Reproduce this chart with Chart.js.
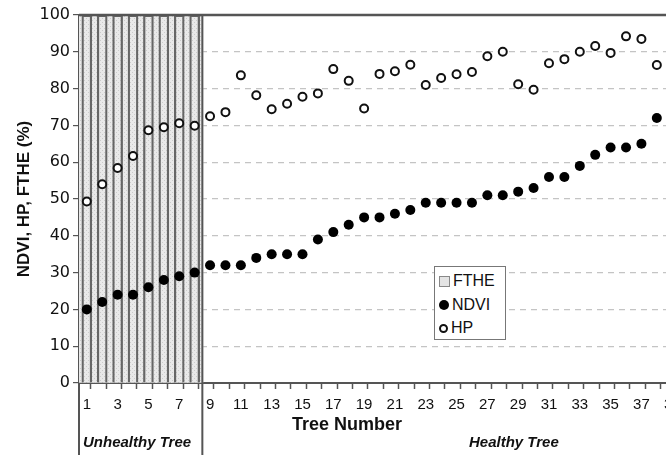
<!DOCTYPE html>
<html>
<head>
<meta charset="utf-8">
<script src="https://cdn.jsdelivr.net/npm/chart.js@4/dist/chart.umd.min.js"></script>
<style>
    html, body { margin: 0; padding: 0; background: #fff; overflow: hidden; }
    #wrap { position: relative; width: 666px; height: 455px; overflow: hidden; font-family: "Liberation Sans", Arial, sans-serif; color: #111; }
    #box { position: absolute; left: 0; top: 0; width: 700px; height: 455px; }
    .lbl { position: absolute; white-space: nowrap; }
    #xtitle { left: 292px; top: 414px; font-size: 18px; font-weight: bold; }
    .zone { top: 433px; font-size: 15px; font-weight: bold; font-style: italic; }
    #legend { position: absolute; left: 434px; top: 266px; width: 70px; height: 72px; border: 1px solid #777; background: #fff; font-size: 16px; }
    #legend div { height: 23.5px; line-height: 24px; padding-left: 4px; }
    #legend div:first-child { margin-top: 2px; }
    #legend span { display: inline-block; vertical-align: middle; margin-right: 3px; box-sizing: border-box; }
</style>
</head>
<body>
<div id="wrap">
    <div id="box"><canvas id="grafico"></canvas></div>
    <div class="lbl" id="xtitle">Tree Number</div>
    <div class="lbl zone" style="left: 83px;">Unhealthy Tree</div>
    <div class="lbl zone" style="left: 469px;">Healthy Tree</div>
    <div id="legend">
        <div><span style="width:11px;height:11px;border:1px solid #888;background:#e4e4e4;"></span>FTHE</div>
        <div><span style="width:10px;height:10px;border-radius:50%;background:#000;"></span>NDVI</div>
        <div><span style="width:9px;height:9px;border-radius:50%;border:2px solid #111;"></span>HP</div>
    </div>
</div>
<script>
// Datos del gráfico
const treeNumbers = [1, 2, 3, 4, 5, 6, 7, 8, 9, 10, 11, 12, 13, 14, 15, 16, 17, 18, 19,
    20, 21, 22, 23, 24, 25, 26, 27, 28, 29, 30, 31, 32, 33, 34, 35, 36, 37, 38];
const ndviValues = [20, 22, 24, 24, 26, 28, 29, 30, 32, 32, 32, 34, 35, 35, 35, 39, 41, 43, 45,
    45, 46, 47, 49, 49, 49, 49, 51, 51, 52, 53, 56, 56, 59, 62, 64, 64, 65, 72];
const hpValues = [49.3, 54, 58.4, 61.7, 68.7, 69.5, 70.6, 69.9, 72.5, 73.6, 83.6, 78.2, 74.4, 75.9,
    77.8, 78.7, 85.3, 82.1, 74.6, 84, 84.7, 86.5, 81, 82.9, 83.9, 84.5, 88.8, 90, 81.2, 79.7,
    86.9, 88, 90, 91.6, 89.7, 94.2, 93.5, 86.4];
const ftheTrees = [1, 2, 3, 4, 5, 6, 7, 8];
const ftheValues = [100, 100, 100, 100, 100, 100, 100, 100];
const yTicks = [0, 10, 20, 30, 40, 50, 60, 70, 80, 90, 100];
const zoneLimit = 8.5; // separación entre árboles enfermos y sanos

// Patrón punteado gris para las barras FTHE
function stipple() {
    const c = document.createElement('canvas');
    c.width = 4; c.height = 4;
    const g = c.getContext('2d');
    g.fillStyle = '#e9e9e9';
    g.fillRect(0, 0, 4, 4);
    g.fillStyle = '#cccccc';
    g.fillRect(0, 0, 1, 1);
    g.fillRect(2, 2, 1, 1);
    return g.createPattern(c, 'repeat');
}

// Líneas extra: borde superior, eje izquierdo prolongado y separador de zonas
const zonePlugin = {
    id: 'zonePlugin',
    afterDatasetsDraw(chart) {
        const { ctx, chartArea, scales } = chart;
        const xSep = scales.x.getPixelForValue(zoneLimit);
        ctx.save();
        ctx.strokeStyle = '#555';
        ctx.lineWidth = 2.5;
        ctx.beginPath();
        ctx.moveTo(chartArea.left, chartArea.top);
        ctx.lineTo(chartArea.right, chartArea.top);
        ctx.stroke();
        ctx.lineWidth = 2;
        ctx.beginPath();
        ctx.moveTo(xSep, chartArea.top);
        ctx.lineTo(xSep, chart.height);
        ctx.moveTo(chartArea.left, chartArea.bottom);
        ctx.lineTo(chartArea.left, chart.height);
        ctx.stroke();
        ctx.restore();
    }
};

const ctx = document.getElementById('grafico').getContext('2d');
const fuente = { family: '"Liberation Sans", Arial, sans-serif' };
const ftheData = ftheTrees.map((t, i) => ({ x: t, y: ftheValues[i] }));

new Chart(ctx, {
    data: {
        datasets: [{
            type: 'scatter',
            label: 'NDVI',
            data: treeNumbers.map((t, i) => ({ x: t, y: ndviValues[i] })),
            pointRadius: 5,
            pointBackgroundColor: '#000',
            pointBorderWidth: 0,
            order: 1
        }, {
            type: 'scatter',
            label: 'HP',
            data: treeNumbers.map((t, i) => ({ x: t, y: hpValues[i] })),
            pointRadius: 4,
            pointBackgroundColor: '#fff',
            pointBorderColor: '#111',
            pointBorderWidth: 2,
            order: 2
        }, {
            // contorno de cada barra FTHE
            type: 'bar',
            label: 'FTHE',
            data: ftheData,
            backgroundColor: 'rgba(0,0,0,0)',
            borderColor: '#666',
            borderWidth: 1.6,
            borderSkipped: 'start',
            barThickness: 10,
            grouped: false,
            order: 3
        }, {
            // relleno punteado de la zona FTHE
            type: 'bar',
            label: 'FTHE relleno',
            data: ftheData,
            backgroundColor: stipple(),
            borderWidth: 0,
            barThickness: 16.5,
            grouped: false,
            order: 4
        }]
    },
    options: {
        responsive: true,
        maintainAspectRatio: false,
        animation: false,
        events: [],
        layout: { padding: { top: 15, left: 0, right: 0, bottom: 0 } },
        scales: {
            x: {
                type: 'linear',
                min: 0.746,
                max: 40.16,
                afterFit: (scale) => { scale.height = 72; },
                afterBuildTicks: (scale) => {
                    const t = [];
                    for (let v = 1; v <= 40; v += 0.5) t.push({ value: v });
                    scale.ticks = t;
                },
                ticks: {
                    autoSkip: false,
                    maxRotation: 0,
                    padding: 7,
                    color: '#111',
                    font: { ...fuente, size: 15 },
                    callback: (v) => (Number.isInteger(v) && v % 2 === 1) ? String(v) : ''
                },
                grid: {
                    drawOnChartArea: false,
                    tickLength: 6,
                    tickWidth: 1.5,
                    tickColor: (c) => (c.tick && c.tick.value % 1 !== 0) ? '#555' : 'rgba(0,0,0,0)'
                },
                border: { display: true, color: '#555', width: 2 }
            },
            y: {
                min: 0,
                max: 100,
                afterFit: (scale) => { scale.width = 79; },
                afterBuildTicks: (scale) => { scale.ticks = yTicks.map(v => ({ value: v })); },
                ticks: {
                    padding: 3,
                    color: '#111',
                    font: { family: '"DejaVu Sans", sans-serif', size: 16 }
                },
                title: {
                    display: true,
                    text: 'NDVI, HP, FTHE (%)',
                    color: '#111',
                    padding: { top: 14, bottom: 0 },
                    font: { ...fuente, size: 17, weight: 'bold' }
                },
                grid: {
                    color: (c) => (c.tick && (c.tick.value === 0 || c.tick.value === 100)) ? 'rgba(0,0,0,0)' : '#c4c4c4',
                    lineWidth: 1.2,
                    tickLength: 6,
                    tickColor: '#555',
                    tickBorderDash: []
                },
                border: { display: true, color: '#555', width: 2, dash: [6, 5] }
            }
        },
        plugins: {
            legend: { display: false },
            title: { display: false },
            tooltip: { enabled: false }
        }
    },
    plugins: [zonePlugin]
});
</script>
</body>
</html>
